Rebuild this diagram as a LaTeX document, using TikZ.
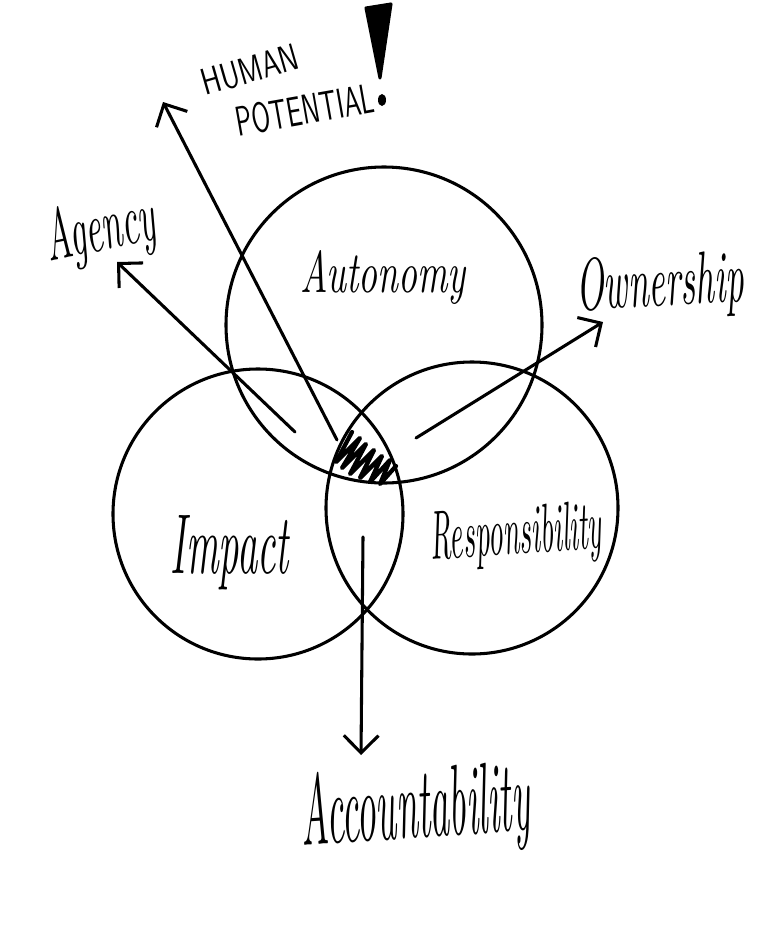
\documentclass[tikz,border=0pt]{standalone}
\usetikzlibrary{arrows.meta}
\newlength\pxu
\setlength\pxu{0.75pt}
\newcommand\hw[3]{\resizebox{#1\pxu}{#2\pxu}{#3}}
\begin{document}
\begin{tikzpicture}[x=0.75pt,y=-0.75pt,
  ink/.style={line width=2.3pt,line cap=round,line join=round},
  venn/.style={ink,draw,circle,inner sep=0pt},
  lab/.style={inner sep=0pt,font=\itshape},
  caplab/.style={inner sep=0pt,font=\sffamily},
  arr/.style={ink,-{Straight Barb[length=13pt,width=26pt,line width=2.3pt]}}]
\useasboundingbox (0,0) rectangle (776,932);
% circles
\node[venn,minimum size=316\pxu] (top) at (384,325) {};
\node[venn,minimum size=290\pxu] (left) at (258,514) {};
\node[venn,minimum size=292\pxu] (right) at (472,508) {};
% labels
\node[lab] (autonomy) at (383,278) {\hw{165}{42}{Autonomy}};
\node[lab] (impact) at (230,553) {\hw{118}{58}{Impact}};
\node[lab,rotate=4] (resp) at (516,537) {\hw{172}{48}{Responsibility}};
\node[lab,rotate=4] (acc) at (415,812) {\hw{230}{72}{Accountability}};
\node[lab,rotate=12] (agency) at (100,232) {\hw{112}{52}{Agency}};
\node[lab,rotate=3] (owner) at (660,287) {\hw{168}{52}{Ownership}};
\node[caplab,rotate=16] (human) at (250,70) {\hw{100}{26}{HUMAN}};
\node[caplab,rotate=10] (potential) at (305,110) {\hw{140}{30}{POTENTIAL}};
% exclamation mark
\fill[ink,draw] (366,8) -- (391,4) -- (380,78) -- cycle;
\fill (382,100) ellipse (4 and 6);
\node[inner sep=0pt] (bang) at (381,50) {};
% centre hatching
\coordinate (c) at (365,455);
\draw[ink,line width=3.2pt] (352,432) -- (336,462) -- (360,438) -- (342,468) -- (366,444) -- (350,474)
  -- (374,450) -- (360,478) -- (382,456) -- (370,482) -- (390,460) -- (380,484) -- (396,466);
% arrows
\coordinate (hp0) at (337,440);
\coordinate (hp1) at (163,102);
\draw[arr] (hp0) -- (hp1);
\coordinate (ag0) at (295,432);
\coordinate (ag1) at (117,262);
\draw[arr] (ag0) -- (ag1);
\coordinate (ow0) at (416,438);
\coordinate (ow1) at (603,322);
\draw[arr] (ow0) -- (ow1);
\coordinate (ac0) at (363,537);
\coordinate (ac1) at (361,755);
\draw[arr] (ac0) -- (ac1);
\end{tikzpicture}
\end{document}
